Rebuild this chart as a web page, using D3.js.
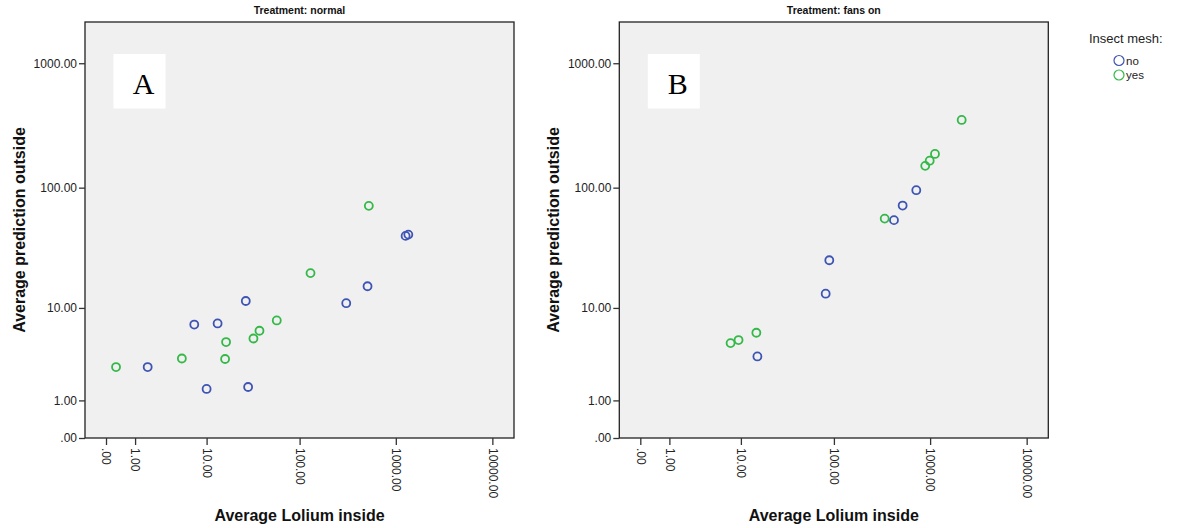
<!DOCTYPE html>
<html>
<head>
<meta charset="utf-8">
<script src="https://cdn.jsdelivr.net/npm/d3@7"></script>
<style>
  body { margin: 0; background: #fff; }
  svg text { font-family: Arial, "Liberation Sans", sans-serif; }
</style>
</head>
<body>
<div id="chart"></div>
<script>
// treatments, one panel each
var treatments = ["normal", "fans on"];
var panelLetters = ["A", "B"];
var meshLevels = ["no", "yes"];
var xTickValues = [0, 1, 10, 100, 1000, 10000];
var yTickValues = [0, 1, 10, 100, 1000];

// [Average Lolium inside, Average prediction outside]
var normalNo = [[1.7, 2.7], [7.2, 7.1], [10, 1.47], [13.3, 7.26], [27, 11.5], [28.6, 1.56],
                [306, 11], [509, 15.4], [1263, 40.5], [1348, 41.5]];
var normalYes = [[0.27, 2.7], [5.1, 3.33], [16.1, 3.29], [16.5, 4.86], [32.6, 5.26], [37.8, 6.22],
                 [57.6, 7.73], [130, 19.9], [525, 71.2]];
var fansNo = [[15.3, 3.5], [82, 13.3], [89.5, 25.5], [422, 54.5], [519, 71.6], [719, 95.4]];
var fansYes = [[7.6, 4.75], [9.4, 5.08], [14.9, 5.96], [338, 56.1], [890, 150], [990, 165],
               [1123, 187], [2123, 351]];

var panelData = [
    {no: normalNo, yes: normalYes},
    {no: fansNo, yes: fansYes}
];

var colorScale = d3.scaleOrdinal().domain(meshLevels).range(["#3e54b4", "#34b848"]);

var W = 1183, H = 528;
var plotTop = 22, plotH = 416, plotW = 429;
var plotLefts = [85, 619.3];

// SPSS "safe log" axis: sign(x) * log10(|x| + 1)
var xScale = d3.scaleSymlog().constant(1).domain([-0.65, 16750]).range([0, plotW]);
var yScale = d3.scaleSymlog().constant(1).domain([0, 2140]).range([plotH, 0]);
var fmt = d3.format(".2f");
var tickFmt = function(d) { var s = fmt(d); return s.indexOf("0.") === 0 ? s.slice(1) : s; };

var svg = d3.select("#chart").append("svg")
    .attr("width", W)
    .attr("height", H);

treatments.forEach(function(t, i) {
    var g = svg.append("g")
        .attr("transform", "translate(" + plotLefts[i] + "," + plotTop + ")");

    g.append("rect")
        .attr("width", plotW)
        .attr("height", plotH)
        .style("fill", "#f0f0f0")
        .style("stroke", "#222")
        .style("stroke-width", 1.3);

    // panel letter box
    g.append("rect")
        .attr("x", 28.5).attr("y", 32)
        .attr("width", 52).attr("height", 54.5)
        .style("fill", "#fff");
    g.append("text")
        .attr("x", 58.5).attr("y", 72)
        .attr("text-anchor", "middle")
        .style("font-family", "'Liberation Serif', 'DejaVu Serif', serif")
        .style("font-size", "30px")
        .style("fill", "#000")
        .text(panelLetters[i]);

    // title
    g.append("text")
        .attr("x", plotW / 2).attr("y", -8)
        .attr("text-anchor", "middle")
        .style("font-size", "10.5px")
        .style("font-weight", "bold")
        .style("fill", "#111")
        .text("Treatment: " + t);

    // y axis
    var yAxis = d3.axisLeft(yScale).tickValues(yTickValues).tickFormat(tickFmt).tickSize(6).tickPadding(2);
    var ya = g.append("g").call(yAxis);
    ya.select(".domain").remove();
    ya.selectAll("line").style("stroke", "#333").style("stroke-width", 1.3);
    ya.selectAll("text").style("font-size", "12px").style("fill", "#222");

    // x axis, labels turned to read downwards
    var xAxis = d3.axisBottom(xScale).tickValues(xTickValues).tickFormat(tickFmt).tickSize(7);
    var xa = g.append("g").attr("transform", "translate(0," + plotH + ")").call(xAxis);
    xa.select(".domain").remove();
    xa.selectAll("line").style("stroke", "#333").style("stroke-width", 1.3);
    xa.selectAll("text")
        .attr("transform", "rotate(90)")
        .attr("x", 10).attr("y", 0).attr("dy", "0.35em")
        .attr("text-anchor", "start")
        .style("font-size", "12px")
        .style("fill", "#222");

    // axis titles
    g.append("text")
        .attr("x", plotW / 2).attr("y", H - plotTop - 7)
        .attr("text-anchor", "middle")
        .style("font-size", "16px")
        .style("font-weight", "bold")
        .style("fill", "#111")
        .text("Average Lolium inside");
    g.append("text")
        .attr("transform", "rotate(-90)")
        .attr("x", -plotH / 2).attr("y", -60)
        .attr("text-anchor", "middle")
        .style("font-size", "16px")
        .style("font-weight", "bold")
        .style("fill", "#111")
        .text("Average prediction outside");

    // points
    meshLevels.forEach(function(m) {
        g.selectAll("circle.p-" + m)
            .data(panelData[i][m])
            .enter().append("circle")
            .attr("class", "p-" + m)
            .attr("cx", function(d) { return xScale(d[0]); })
            .attr("cy", function(d) { return yScale(d[1]); })
            .attr("r", 4)
            .style("fill", "none")
            .style("stroke", colorScale(m))
            .style("stroke-width", 1.8);
    });
});

// legend
var lg = svg.append("g").attr("transform", "translate(1089,0)");
lg.append("text")
    .attr("x", 0).attr("y", 43)
    .style("font-size", "13px")
    .style("fill", "#222")
    .text("Insect mesh:");
meshLevels.forEach(function(m, k) {
    lg.append("circle")
        .attr("cx", 30).attr("cy", 60.5 + k * 14.5)
        .attr("r", 5)
        .style("fill", "none")
        .style("stroke", colorScale(m))
        .style("stroke-width", 1.2);
    lg.append("text")
        .attr("x", 37).attr("y", 60.5 + k * 14.5).attr("dy", "0.35em")
        .style("font-size", "11.5px")
        .style("fill", "#222")
        .text(m);
});
</script>
</body>
</html>
